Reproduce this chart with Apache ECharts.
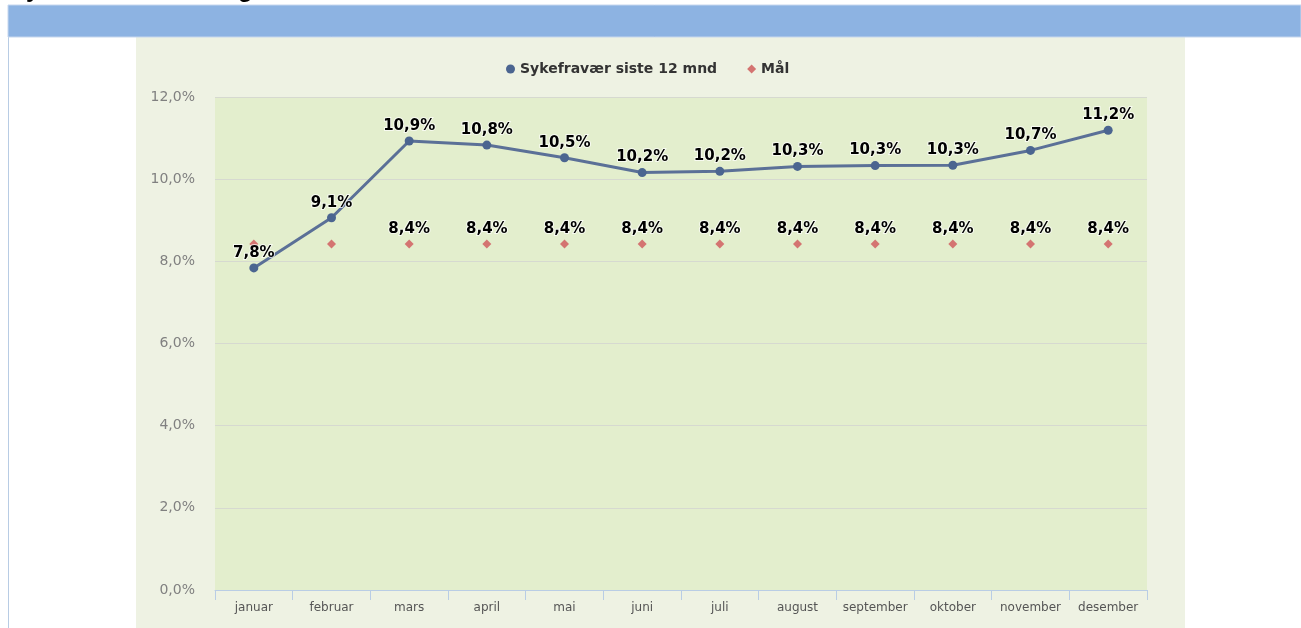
<!DOCTYPE html>
<html>
<head>
    <meta charset="utf-8">
    <title>Sykefravær</title>
    <script src="https://cdn.jsdelivr.net/npm/echarts@6/dist/echarts.min.js"></script>
</head>
<body style="margin:0;background:#fff;">
<div id="main" style="width:1301px;height:628px;"></div>
<script type="text/javascript">
    var maaneder = ['januar', 'februar', 'mars', 'april', 'mai', 'juni', 'juli', 'august', 'september', 'oktober', 'november', 'desember'];
    var sykefravaer = [7.84, 9.06, 10.93, 10.83, 10.52, 10.16, 10.19, 10.31, 10.33, 10.34, 10.70, 11.19];
    var maal = [8.42, 8.42, 8.42, 8.42, 8.42, 8.42, 8.42, 8.42, 8.42, 8.42, 8.42, 8.42];
    var skjulMaalEtikett = [true, true, false, false, false, false, false, false, false, false, false, false];

    function pst(v) {
        return v.toFixed(1).replace('.', ',') + '%';
    }

    var etikett = {
        show: true,
        position: 'top',
        distance: 3,
        color: '#000',
        fontFamily: 'DejaVu Sans',
        fontWeight: 'bold',
        fontSize: 15,
        textBorderColor: 'rgba(255,255,255,0.7)',
        textBorderWidth: 2,
        formatter: function (p) { return pst(p.value); }
    };

    var myChart = echarts.init(document.getElementById('main'));

    myChart.setOption({
        backgroundColor: '#fff',
        animation: false,
        graphic: [
            { type: 'text', left: 10, top: -22, z: 0,
              style: { text: 'Sykefraværsutvikling mot mål', font: 'bold 24px "Liberation Sans"', fill: '#000' } },
            { type: 'rect', shape: { x: 8, y: 5, width: 1293, height: 32 }, z: 1,
              style: { fill: '#8db3e2', stroke: '#c6d7ee', lineWidth: 1 } },
            { type: 'rect', shape: { x: 8, y: 37, width: 1, height: 591 }, z: -5,
              style: { fill: '#b8cce4' } },
            { type: 'rect', shape: { x: 136, y: 37, width: 1049, height: 591 }, z: -5,
              style: { fill: '#eef2e3' } }
        ],
        legend: {
            top: 57,
            left: 501,
            itemGap: 30,
            itemWidth: 9,
            itemHeight: 9,
            textStyle: { fontFamily: 'DejaVu Sans', fontWeight: 'bold', fontSize: 14, color: '#333' },
            data: [
                { name: 'Sykefravær siste 12 mnd', icon: 'circle' },
                { name: 'Mål', icon: 'diamond' }
            ]
        },
        grid: {
            left: 215, right: 154, top: 97, bottom: 38,
            show: true, backgroundColor: '#e3eecd', borderWidth: 0
        },
        xAxis: {
            type: 'category',
            data: maaneder,
            boundaryGap: true,
            axisLine: { lineStyle: { color: '#b9cde5', width: 1 } },
            axisTick: { show: true, interval: 0, length: 10, lineStyle: { color: '#b9cde5' } },
            axisLabel: { interval: 0, color: '#555', fontFamily: 'DejaVu Sans', fontSize: 12, margin: 12 }
        },
        yAxis: {
            type: 'value',
            min: 0, max: 12, interval: 2,
            axisLine: { show: false },
            axisTick: { show: false },
            splitLine: { lineStyle: { color: '#d6d9d0', width: 1 } },
            axisLabel: {
                color: '#808080', fontFamily: 'DejaVu Sans', fontSize: 14, margin: 20,
                formatter: function (v) { return pst(v); }
            }
        },
        series: [
            {
                name: 'Sykefravær siste 12 mnd',
                type: 'line',
                data: sykefravaer,
                symbol: 'circle',
                symbolSize: 9,
                lineStyle: { color: '#5b7097', width: 3 },
                itemStyle: { color: '#4b6590' },
                label: etikett,
                z: 3
            },
            {
                name: 'Mål',
                type: 'line',
                data: maal.map(function (v, i) {
                    return skjulMaalEtikett[i] ? { value: v, label: { show: false } } : v;
                }),
                symbol: 'diamond',
                symbolSize: 9,
                lineStyle: { width: 0, opacity: 0 },
                itemStyle: { color: '#d47471' },
                label: etikett,
                z: 2
            }
        ]
    });
</script>
</body>
</html>
